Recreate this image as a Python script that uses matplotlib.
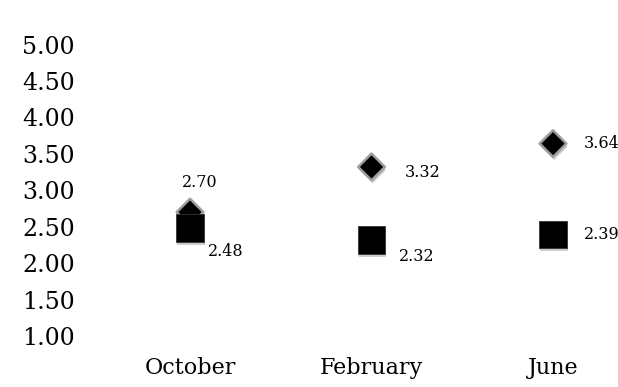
import matplotlib
matplotlib.use("Agg")
import matplotlib.pyplot as plt
import matplotlib.patheffects as pe

categories = ["October", "February", "June"]
series_diamond = [2.70, 3.32, 3.64]
series_square = [2.48, 2.32, 2.39]
yticks = [1.00, 1.50, 2.00, 2.50, 3.00, 3.50, 4.00, 4.50, 5.00]

plt.rcParams['font.family'] = ['DejaVu Serif', 'DejaVu Sans']

fig = plt.figure(figsize=(6.18, 3.87), dpi=100)
W, H = 618, 387
left, right, top, bottom = 100, 618, 44.5, 336
ax = fig.add_axes([left / W, 1 - bottom / H, (right - left) / W, (bottom - top) / H])

x = list(range(len(categories)))
shadow = [pe.SimplePatchShadow(offset=(0.8, -2.2), shadow_rgbFace='0.45', alpha=0.35), pe.Normal()]

ax.scatter(x, series_diamond, marker='D', s=185, color='black', edgecolors='0.62',
           linewidths=1.8, zorder=3, clip_on=False, path_effects=shadow)
ax.scatter(x, series_square, marker='s', s=390, color='black', edgecolors='0.2',
           linewidths=0.6, zorder=4, clip_on=False, path_effects=shadow)

# data labels (offsets in points)
offsets_d = [(7, 21, 'center'), (24, -4, 'left'), (22, 0, 'left')]
offsets_s = [(13, -17, 'left'), (20, -12, 'left'), (22, 0, 'left')]
for i in x:
    dx, dy, ha = offsets_d[i]
    ax.annotate(f"{series_diamond[i]:.2f}", (i, series_diamond[i]), xytext=(dx, dy),
                textcoords='offset points', ha=ha, va='center', fontsize=11.5)
    dx, dy, ha = offsets_s[i]
    ax.annotate(f"{series_square[i]:.2f}", (i, series_square[i]), xytext=(dx, dy),
                textcoords='offset points', ha=ha, va='center', fontsize=11.5)

ax.set_xlim(-0.496, 2.358)
ax.set_ylim(1.0, 5.0)
ax.set_yticks(yticks)
ax.set_yticklabels([f"{v:.2f}" for v in yticks], fontsize=17)
ax.set_xticks(x)
ax.set_xticklabels(categories, fontsize=16)
ax.tick_params(axis='both', length=0)
ax.tick_params(axis='y', pad=18)
ax.tick_params(axis='x', pad=15)
for s in ax.spines.values():
    s.set_visible(False)
ax.patch.set_alpha(0)

fig.savefig("out.png", dpi=100)
